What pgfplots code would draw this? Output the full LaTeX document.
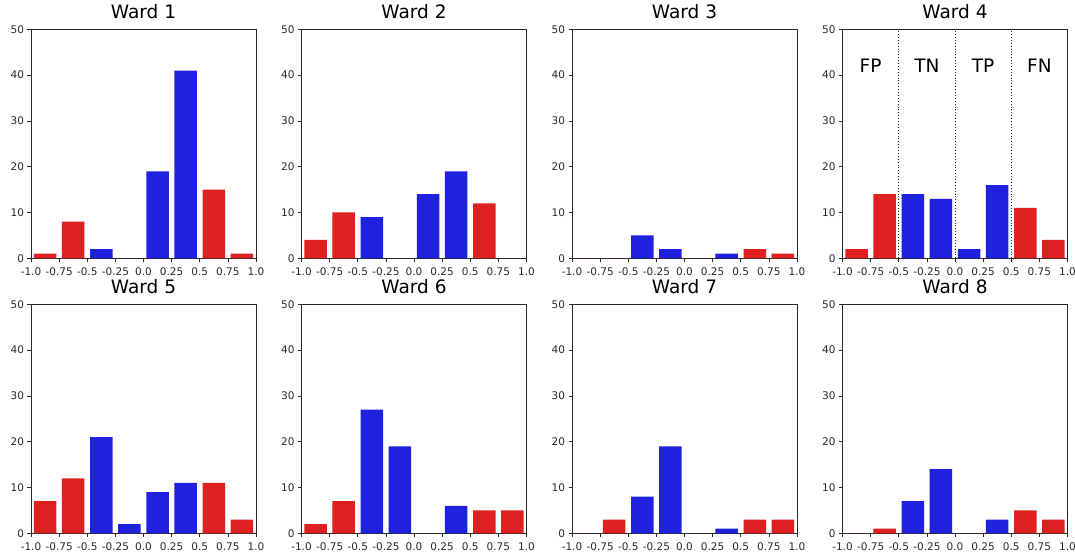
\documentclass[border=0pt]{standalone}
\usepackage{fontspec}
\setmainfont{DejaVu Sans}
\usepackage{pgfplots}
\pgfplotsset{compat=1.18}
\usepgfplotslibrary{groupplots}
\definecolor{barred}{RGB}{223,32,32}
\definecolor{barblue}{RGB}{32,32,223}
\definecolor{spine}{RGB}{40,40,40}

\pgfplotsset{
  wardax/.style={
    scale only axis,
    width=225pt, height=229pt,
    xmin=-1, xmax=1, ymin=0, ymax=50,
    xtick={-1,-0.75,-0.5,-0.25,0,0.25,0.5,0.75,1},
    xticklabels={-1.0,-0.75,-0.5,-0.25,0.0,0.25,0.5,0.75,1.0},
    ytick={0,10,20,30,40,50},
    xtick pos=bottom, ytick pos=left,
    tick align=outside, major tick length=3.5pt,
    tick style={spine, line width=0.7pt},
    axis line style={spine, line width=0.8pt},
    /pgf/number format/assume math mode=true,
    ticklabel style={font=\fontsize{10.5}{12}\selectfont, text=spine},
    xticklabel style={inner xsep=0pt, yshift=-2pt},
    title style={font=\fontsize{18.5}{20}\selectfont, anchor=base, yshift=4.3pt},
    ybar, bar width=0.2, bar shift=0pt,
  },
  redbar/.style={fill=barred, draw=none},
  bluebar/.style={fill=barblue, draw=none},
}

\begin{document}
\begin{tikzpicture}
\begin{groupplot}[
  group style={group size=4 by 2, horizontal sep=45.5pt, vertical sep=46pt},
  wardax,
]
% Ward 1
\nextgroupplot[title={Ward 1}]
\addplot[redbar] coordinates {(-0.875,1) (-0.625,8) (0.625,15) (0.875,1)};
\addplot[bluebar] coordinates {(-0.375,2) (-0.125,0) (0.125,19) (0.375,41)};
% Ward 2
\nextgroupplot[title={Ward 2}]
\addplot[redbar] coordinates {(-0.875,4) (-0.625,10) (0.625,12) (0.875,0)};
\addplot[bluebar] coordinates {(-0.375,9) (-0.125,0) (0.125,14) (0.375,19)};
% Ward 3
\nextgroupplot[title={Ward 3}]
\addplot[redbar] coordinates {(-0.875,0) (-0.625,0) (0.625,2) (0.875,1)};
\addplot[bluebar] coordinates {(-0.375,5) (-0.125,2) (0.125,0) (0.375,1)};
% Ward 4
\nextgroupplot[title={Ward 4}]
\addplot[redbar] coordinates {(-0.875,2) (-0.625,14) (0.625,11) (0.875,4)};
\addplot[bluebar] coordinates {(-0.375,14) (-0.125,13) (0.125,2) (0.375,16)};
\draw[dotted, line width=0.9pt, spine] (axis cs:-0.5,0) -- (axis cs:-0.5,50);
\draw[dotted, line width=0.9pt, spine] (axis cs:0,0) -- (axis cs:0,50);
\draw[dotted, line width=0.9pt, spine] (axis cs:0.5,0) -- (axis cs:0.5,50);
\node[font=\fontsize{18.5}{20}\selectfont] at (axis cs:-0.75,42) {FP};
\node[font=\fontsize{18.5}{20}\selectfont] at (axis cs:-0.25,42) {TN};
\node[font=\fontsize{18.5}{20}\selectfont] at (axis cs:0.25,42) {TP};
\node[font=\fontsize{18.5}{20}\selectfont] at (axis cs:0.75,42) {FN};
% Ward 5
\nextgroupplot[title={Ward 5}]
\addplot[redbar] coordinates {(-0.875,7) (-0.625,12) (0.625,11) (0.875,3)};
\addplot[bluebar] coordinates {(-0.375,21) (-0.125,2) (0.125,9) (0.375,11)};
% Ward 6
\nextgroupplot[title={Ward 6}]
\addplot[redbar] coordinates {(-0.875,2) (-0.625,7) (0.625,5) (0.875,5)};
\addplot[bluebar] coordinates {(-0.375,27) (-0.125,19) (0.125,0) (0.375,6)};
% Ward 7
\nextgroupplot[title={Ward 7}]
\addplot[redbar] coordinates {(-0.875,0) (-0.625,3) (0.625,3) (0.875,3)};
\addplot[bluebar] coordinates {(-0.375,8) (-0.125,19) (0.125,0) (0.375,1)};
% Ward 8
\nextgroupplot[title={Ward 8}]
\addplot[redbar] coordinates {(-0.875,0) (-0.625,1) (0.625,5) (0.875,3)};
\addplot[bluebar] coordinates {(-0.375,7) (-0.125,14) (0.125,0) (0.375,3)};
\end{groupplot}
\pgfresetboundingbox
\path[use as bounding box] ([xshift=-31pt,yshift=29.3pt]group c1r1.north west)
  rectangle ([xshift=7.5pt,yshift=-20.7pt]group c4r2.south east);
\end{tikzpicture}
\end{document}
